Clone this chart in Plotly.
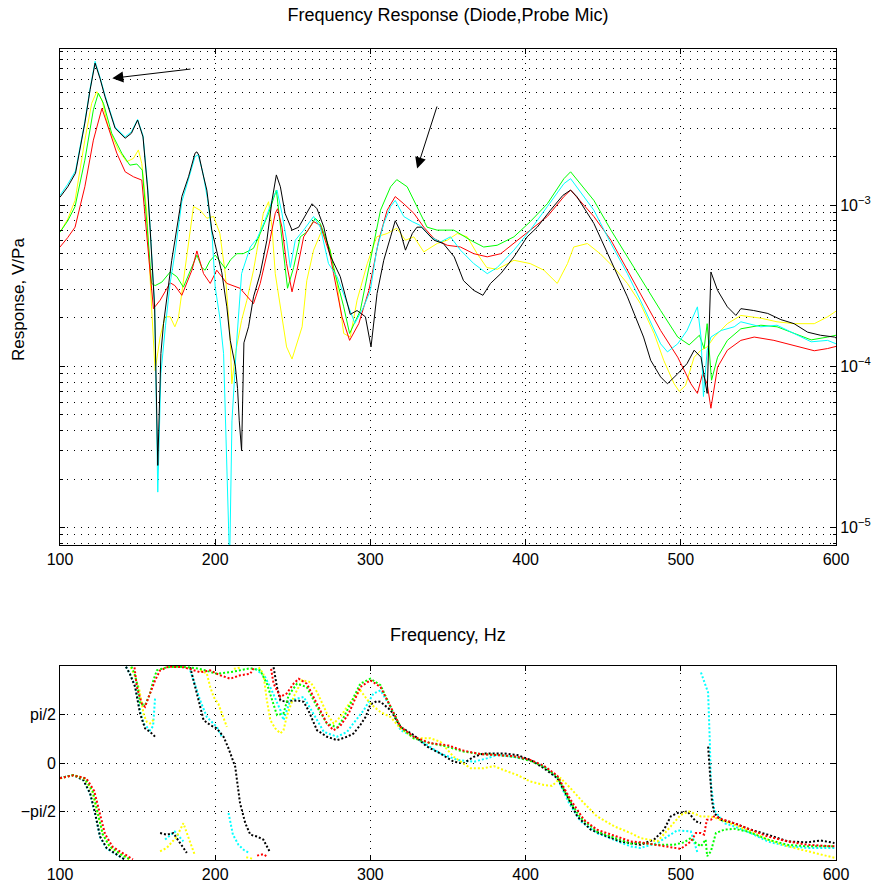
import math
import plotly.graph_objects as go

# ---------------- Magnitude data (Frequency Hz, Response V/Pa) ----------------
black_f = [100, 105, 110, 116, 119.4, 122.6, 125.8, 129, 135.5, 142, 146, 150, 153.5, 156.5, 158, 161, 163, 165,
           166.7, 169.9, 172, 174, 178.5, 182.8, 187, 188.2, 189.5, 192, 194.6, 197.8, 201, 204.3, 207.5, 209.7,
           213, 214.4, 215.5, 217, 218.5, 221.5, 224.7, 229, 233.3, 236.6, 239.4, 242, 245, 249.5, 253.8, 258,
           262.4, 265.6, 270, 274, 280.6, 287, 291.4, 296.8, 300.4, 304.3, 308.6, 313, 316, 319, 322.6, 327, 330,
           333, 341, 347, 354, 360, 366.6, 372.5, 377.4, 384, 392.5, 401, 407.5, 416, 424, 429, 433, 444, 455,
           465.6, 476, 480.6, 487, 491.4, 498, 504, 508.6, 513, 517, 519.4, 523.7, 530, 535.5, 538.7, 547, 556,
           564.5, 573, 581.7, 590, 599, 600]
black_v = [1.12e-3, 1.3e-3, 1.58e-3, 3.23e-3, 5.2e-3, 7.6e-3, 6.1e-3, 4.7e-3, 3.0e-3, 2.6e-3, 2.79e-3, 3.37e-3,
           2.65e-3, 1.24e-3, 7.3e-4, 2.3e-4, 2.43e-5, 1.2e-4, 1.84e-4, 3.27e-4, 4.55e-4, 6.0e-4, 1.13e-3, 1.5e-3,
           2.1e-3, 2.14e-3, 2.04e-3, 1.58e-3, 1.24e-3, 7.0e-4, 5.25e-4, 3.8e-4, 2.34e-4, 1.45e-4, 1.0e-4, 7.3e-5,
           4.6e-5, 3.0e-5, 1.4e-4, 1.76e-4, 2.7e-4, 3.76e-4, 6.06e-4, 1.07e-3, 1.54e-3, 1.3e-3, 8.9e-4, 7.0e-4,
           7.3e-4, 8.67e-4, 1.02e-3, 9.5e-4, 7.3e-4, 4.9e-4, 3.6e-4, 2.1e-4, 2.22e-4, 2.03e-4, 1.32e-4, 2.83e-4,
           4.55e-4, 6.36e-4, 8.0e-4, 7.0e-4, 5.26e-4, 6.67e-4, 7.3e-4, 7.3e-4, 6.06e-4, 5.78e-4, 4.78e-4, 3.4e-4,
           2.96e-4, 2.76e-4, 3.27e-4, 3.76e-4, 4.78e-4, 6.36e-4, 7.3e-4, 9.3e-4, 1.15e-3, 1.24e-3, 1.13e-3, 7.7e-4,
           4.55e-4, 2.7e-4, 1.52e-4, 1.09e-4, 8.6e-5, 7.8e-5, 9.0e-5, 1.04e-4, 1.26e-4, 1.14e-4, 6.8e-5, 3.85e-4,
           2.96e-4, 2.34e-4, 2.07e-4, 2.28e-4, 2.22e-4, 2.13e-4, 1.95e-4, 1.84e-4, 1.63e-4, 1.56e-4, 1.52e-4, 1.5e-4]

cyan_f = [100, 105, 110, 116, 119.4, 122.6, 125.8, 129, 135.5, 142, 146, 150, 153.5, 156.5, 158, 161, 163, 165, 168,
          171, 174, 178.5, 182.8, 187, 189, 192, 195, 198, 200, 203, 205.4, 207.5, 209.3, 210.8, 214, 217, 222.6,
          227, 232, 237.6, 239.8, 243, 246, 248.4, 251.6, 257, 263.4, 267.7, 273, 278.5, 285, 290, 295.7, 300, 304,
          308.6, 313, 316, 321.5, 327, 332, 338.7, 345, 351.6, 358, 366.6, 375.3, 381.7, 392.5, 403, 414, 424.7,
          429, 444, 455, 465.6, 476, 487, 491.4, 498, 504, 510.7, 513, 514.6, 517, 519.4, 526, 534.4, 538.7, 551.6,
          562, 573, 584, 594.6, 600]
cyan_v = [1.15e-3, 1.35e-3, 1.63e-3, 3.3e-3, 5.3e-3, 7.8e-3, 6.2e-3, 4.8e-3, 3.05e-3, 2.65e-3, 2.85e-3, 3.4e-3,
          2.7e-3, 1.3e-3, 7.5e-4, 2.4e-4, 1.66e-5, 9.0e-5, 1.8e-4, 3.3e-4, 5.0e-4, 1.05e-3, 1.45e-3, 2.0e-3, 2.05e-3,
          1.6e-3, 1.1e-3, 6.5e-4, 3.1e-4, 2.0e-4, 1.2e-4, 2.9e-5, 6.0e-6, 4.6e-5, 1.5e-4, 3.76e-4, 5.5e-4, 6.2e-4,
          8.0e-4, 1.13e-3, 1.24e-3, 8.9e-4, 6.06e-4, 4.1e-4, 6.06e-4, 7.0e-4, 8.5e-4, 7.3e-4, 4.34e-4, 3.6e-4,
          2.45e-4, 1.85e-4, 2.34e-4, 2.96e-4, 5.26e-4, 7.7e-4, 9.8e-4, 1.07e-3, 8.5e-4, 7.9e-4, 7.5e-4, 6.36e-4,
          5.9e-4, 6.36e-4, 5.26e-4, 4.34e-4, 3.76e-4, 4.1e-4, 5.26e-4, 7.0e-4, 9.8e-4, 1.36e-3, 1.46e-3, 9.3e-4,
          5.78e-4, 3.76e-4, 2.34e-4, 1.38e-4, 1.23e-4, 1.38e-4, 1.67e-4, 2.34e-4, 1.52e-4, 6.5e-5, 1.26e-4, 1.52e-4,
          1.67e-4, 1.76e-4, 1.89e-4, 1.76e-4, 1.8e-4, 1.6e-4, 1.42e-4, 1.45e-4, 1.38e-4]

yellow_f = [100, 105, 109.7, 116, 120.4, 123.7, 127, 131, 137.6, 143, 147.3, 150.5, 152.7, 156, 159, 161.3, 164.5,
            167.7, 171, 174, 176.3, 179.5, 182.8, 186, 190.3, 194.6, 199, 203, 206.5, 209.7, 210.7, 213, 217, 220.4,
            224.7, 227, 231, 234.4, 236.6, 238.7, 242, 246, 249.5, 252.7, 256, 259, 263.4, 268.8, 274, 278.5,
            282.8, 287, 291.4, 298, 304, 310.8, 317, 322.6, 328, 334.4, 343, 349.5, 356, 362.4, 368.8, 375, 381.7,
            392.5, 403, 411.8, 420.4, 427, 431, 439.8, 448, 457, 465.6, 474, 482.8, 489, 495.7, 499, 503, 508.6,
            513, 517, 521.5, 530, 538.7, 551.6, 562, 573, 586, 594.6, 600]
yellow_v = [6.8e-4, 8.2e-4, 1.07e-3, 2.53e-3, 4.28e-3, 5.06e-3, 4.5e-3, 3.06e-3, 2.2e-3, 1.86e-3, 1.95e-3, 2.2e-3,
            1.81e-3, 8.9e-4, 2.34e-4, 9.4e-5, 1.52e-4, 2.03e-4, 2.03e-4, 1.76e-4, 2.0e-4, 3.4e-4, 6.06e-4, 9.8e-4,
            9.3e-4, 8.3e-4, 8.5e-4, 6.67e-4, 3.76e-4, 1.45e-4, 7.8e-5, 1.2e-4, 1.93e-4, 2.57e-4, 3.95e-4, 5.26e-4,
            8.9e-4, 1.05e-3, 7.3e-4, 3.76e-4, 2.34e-4, 1.32e-4, 1.11e-4, 1.38e-4, 1.76e-4, 3.4e-4, 5.26e-4, 7.0e-4,
            5.3e-4, 3.27e-4, 1.6e-4, 1.52e-4, 2.57e-4, 4.34e-4, 6.36e-4, 6.67e-4, 7.2e-4, 6.06e-4, 6.36e-4, 5.13e-4,
            5.78e-4, 6.06e-4, 6.67e-4, 6.36e-4, 5.0e-4, 4.1e-4, 4.0e-4, 4.55e-4, 4.34e-4, 3.95e-4, 3.27e-4, 4.34e-4,
            5.5e-4, 5.78e-4, 5.0e-4, 4.1e-4, 3.27e-4, 2.45e-4, 1.6e-4, 1.09e-4, 7.8e-5, 7.0e-5, 7.6e-5, 1.14e-4,
            1.26e-4, 1.32e-4, 1.52e-4, 1.84e-4, 2.07e-4, 1.99e-4, 1.89e-4, 1.84e-4, 1.84e-4, 2.03e-4, 2.2e-4]

green_f = [100, 105, 109.7, 116, 121.5, 124.7, 128, 133.3, 139.8, 145, 149.5, 153, 156, 159, 161.3, 165.6, 171,
           175.3, 179.5, 185, 188.2, 191.4, 193.5, 196.5, 200, 206.5, 210, 214, 218, 222.6, 224.7, 229, 234.4, 239.4,
           242, 245, 246.6, 250.5, 254.8, 259, 264.5, 267.7, 274, 276.3, 282.8, 286.6, 293.5, 300, 306.5, 313, 317,
           323.7, 330, 336.5, 343, 353.8, 364.5, 373, 381.7, 392.5, 403, 414, 424.7, 429, 444, 455, 465.6, 476, 487,
           498, 505.4, 512, 515, 517, 519.8, 523.7, 530, 538.7, 551.6, 562, 573, 584, 594.6, 600]
green_v = [6.8e-4, 8.0e-4, 9.8e-4, 1.9e-3, 3.9e-3, 4.95e-3, 4.28e-3, 2.79e-3, 2.1e-3, 1.77e-3, 1.8e-3, 1.65e-3,
           7.7e-4, 3.27e-4, 3.17e-4, 3.33e-4, 3.85e-4, 3.6e-4, 3.1e-4, 4.1e-4, 4.9e-4, 4.1e-4, 3.95e-4, 4.5e-4,
           4.9e-4, 4.05e-4, 4.6e-4, 5.0e-4, 5.0e-4, 5.26e-4, 5.4e-4, 6.67e-4, 8.9e-4, 1.24e-3, 7.7e-4, 4.1e-4,
           3.05e-4, 4.1e-4, 6.36e-4, 6.8e-4, 8.3e-4, 7.7e-4, 5.26e-4, 4.1e-4, 2.34e-4, 1.6e-4, 2.22e-4, 4.55e-4,
           9.3e-4, 1.3e-3, 1.44e-3, 1.3e-3, 9.8e-4, 7.3e-4, 7.0e-4, 7.0e-4, 6.06e-4, 5.5e-4, 5.64e-4, 6.36e-4,
           7.9e-4, 1.02e-3, 1.46e-3, 1.61e-3, 1.07e-3, 7.0e-4, 4.78e-4, 3.27e-4, 2.22e-4, 1.52e-4, 1.36e-4, 1.56e-4,
           1.29e-4, 1.84e-4, 8.2e-5, 1.14e-4, 1.45e-4, 1.71e-4, 1.8e-4, 1.76e-4, 1.6e-4, 1.46e-4, 1.52e-4, 1.56e-4]

red_f = [100, 105, 109.7, 116, 121.5, 127, 131, 136.6, 142, 147.3, 152.7, 156, 160.2, 164.5, 171, 174, 178.5, 185,
         188.2, 192.5, 196.8, 201, 207.5, 216, 224.7, 229, 234.4, 238.7, 240.2, 243, 246, 249.5, 252.7, 257, 263.4,
         267.7, 274, 276.3, 281.7, 286.6, 292.5, 299, 305.4, 310.8, 316, 321.5, 328, 334.4, 341, 349.5, 358, 366.6,
         375.3, 384, 392.5, 403, 414, 424.7, 429, 444, 455, 465.6, 476, 487, 498, 506.5, 510.7, 514, 517, 519.4,
         523.7, 530, 538.7, 547.3, 560, 573, 586, 594.6, 600]
red_v = [5.5e-4, 6.3e-4, 7.3e-4, 1.3e-3, 2.53e-3, 3.98e-3, 3.06e-3, 2.1e-3, 1.61e-3, 1.5e-3, 1.43e-3, 6.67e-4,
         2.28e-4, 2.57e-4, 3.3e-4, 3.17e-4, 2.76e-4, 3.95e-4, 5.2e-4, 3.76e-4, 3.27e-4, 3.95e-4, 3.27e-4, 3.05e-4,
         2.45e-4, 3.27e-4, 5.5e-4, 8.9e-4, 9.5e-4, 7.3e-4, 4.34e-4, 2.9e-4, 3.95e-4, 6.36e-4, 7.9e-4, 7.5e-4, 4.9e-4,
         3.76e-4, 2.03e-4, 1.45e-4, 1.84e-4, 2.96e-4, 6.06e-4, 9.3e-4, 1.13e-3, 1.02e-3, 8.9e-4, 7.3e-4, 6.2e-4,
         5.64e-4, 5.5e-4, 5.0e-4, 4.78e-4, 5.0e-4, 5.78e-4, 7.0e-4, 8.5e-4, 1.13e-3, 1.24e-3, 8.5e-4, 6.06e-4,
         3.95e-4, 2.57e-4, 1.67e-4, 1.14e-4, 7.8e-5, 6.8e-5, 9.0e-5, 7.8e-5, 5.5e-5, 9.9e-5, 1.26e-4, 1.45e-4,
         1.52e-4, 1.45e-4, 1.35e-4, 1.25e-4, 1.29e-4, 1.33e-4]

# ---------------- Phase data (Frequency Hz, phase rad) ----------------
black_pf = [100, 108.6, 115, 119.4, 122.6, 125.8, 130, 136.6, 141.5, 142.5, 145, 148.4, 151.6, 154.8, 158, 161.3,
            164.5, 168.8, 173, 177.4, 181.7, 183.9, 188.2, 192.5, 196.8, 201, 205.4, 208.6, 212.9, 216, 219.4, 222.6,
            227, 231, 235.5, 237.6, 239.8, 242, 246, 252.7, 257, 260, 265.6, 272, 278.5, 285, 289, 293.5, 297, 300,
            304, 306.5, 313, 319.4, 328, 336.5, 345, 353.7, 360, 366.6, 373, 386, 394.6, 403, 411.8, 420.4, 427,
            433.3, 442, 452.7, 461, 474, 482.8, 489.2, 493.5, 497.8, 504.3, 509.7, 513, 516.6, 517.6, 519, 520, 521.5,
            525.8, 534.4, 545, 556, 569, 581.7, 590, 599]
black_p = [-0.49, -0.39, -0.55, -0.98, -1.62, -2.38, -2.75, -2.97, -3.12, 3.12, 2.89, 2.46, 1.6, 1.12, 1.01, 0.85,
           -2.27, -2.32, -2.27, -2.59, -2.91, 3.1, 2.25, 1.39, 1.23, 1.12, 0.85, 0.47, -0.12, -1.3, -1.95, -2.32,
           -2.38, -2.48, -2.91, 3.1, 2.46, 2.03, 1.98, 2.03, 1.98, 1.71, 1.06, 0.85, 0.74, 0.85, 0.95, 1.23, 1.5,
           1.9, 2.0, 1.98, 1.71, 1.17, 0.9, 0.53, 0.31, 0.04, -0.01, 0.2, 0.31, 0.31, 0.26, 0.1, -0.17, -0.49, -1.09,
           -1.73, -2.16, -2.38, -2.54, -2.65, -2.48, -2.16, -1.73, -1.62, -1.57, -1.89, -1.95, 2.41, 0.53, -0.49,
           -1.19, -1.62, -1.84, -1.95, -2.16, -2.32, -2.54, -2.57, -2.51, -2.59]

cyan_pf = [100, 108.6, 115, 119.4, 122.6, 125.8, 130, 136.6, 141.5, 142.5, 145, 148.4, 151.6, 153.8, 158, 160,
           161.3, 167.7, 174, 179.5, 183.9, 190.3, 194.6, 201, 204.3, 208.6, 211.4, 215, 218.3, 221.5, 226, 232, 236,
           239.8, 242, 244, 248.4, 257, 263.4, 270, 278.5, 285, 289, 295.7, 302, 306.5, 313, 319.4, 328, 336.5, 345,
           356, 366.6, 375, 381.7, 392.5, 403, 411.8, 420.4, 428, 435.5, 446, 457, 467.7, 474, 485, 491.4, 497.8,
           506.5, 510.8, 513, 517.6, 518.7, 519.4, 521.5, 528, 534.4, 545, 556, 569, 581.7, 599]
cyan_p = [-0.49, -0.39, -0.55, -1.0, -1.65, -2.4, -2.77, -2.98, -3.12, 3.12, 2.9, 2.5, 1.7, 1.28, 1.06, 1.2, 2.14,
          -2.48, -2.22, -2.54, 3.0, 2.03, 1.49, 1.17, 0.85, -1.62, -2.32, -2.65, -2.81, -2.9, 3.05, 2.8, 2.4, 1.98,
          1.71, 1.39, 2.03, 2.14, 1.6, 1.01, 0.85, 1.01, 1.28, 1.71, 2.25, 2.35, 1.82, 1.06, 0.85, 0.58, 0.31, 0.1,
          0.04, 0.15, 0.26, 0.2, 0.1, -0.12, -0.49, -1.3, -1.89, -2.27, -2.48, -2.7, -2.75, -2.59, -2.38, -2.18,
          -2.22, -2.91, 2.93, 2.28, 0.69, -0.65, -1.52, -1.95, -2.05, -2.27, -2.54, -2.7, -2.75, -2.75]

yellow_pf = [100, 108.6, 116, 121, 124, 127.5, 132, 139, 144.5, 145.5, 148, 151, 154, 156, 158, 161, 164.5, 168.8,
             175.3, 179.5, 184, 187, 190.3, 194.6, 196.8, 199, 202, 205.4, 207.5, 212, 217, 220, 224, 228, 231,
             233.3, 235.5, 238.7, 242, 244, 246, 250.5, 256, 261.3, 265.6, 272, 276.3, 280.6, 286, 293.5, 300, 306.5,
             313, 319.4, 328, 338.7, 345, 353.7, 364.5, 373, 379.5, 386, 394.6, 403, 411.8, 417, 422.6, 429, 437.6,
             446, 457, 467.7, 474, 485, 493.5, 500, 505.4, 513, 519.4, 525.8, 534.4, 545, 556, 569, 581.7, 599]
yellow_p = [-0.5, -0.39, -0.52, -0.95, -1.6, -2.3, -2.72, -2.95, -3.12, 3.1, 2.85, 2.4, 1.55, 1.33, 1.28, 1.44,
            -2.86, -2.75, -2.38, -1.95, -2.59, -3.0, 3.0, 2.9, 2.46, 2.14, 1.92, 1.49, 1.17, 3.05, 3.1, -3.05, -3.1,
            3.1, 2.9, 2.03, 1.39, 1.12, 0.96, 1.06, 1.49, 2.14, 2.68, 2.62, 2.3, 1.6, 1.28, 1.49, 1.9, 2.35, 1.92,
            1.65, 1.49, 1.12, 0.8, 0.8, 0.69, 0.2, -0.17, -0.17, -0.1, -0.23, -0.39, -0.6, -0.71, -0.74, -0.49, -0.82,
            -1.3, -1.73, -2.05, -2.27, -2.43, -2.54, -2.05, -1.68, -1.57, -1.73, -1.73, -1.84, -2.0, -2.22, -2.48,
            -2.7, -2.86, -3.07]

green_pf = [100, 108.6, 116, 121, 124, 127.5, 132, 139, 145, 146, 148, 150, 151.6, 154.8, 158, 160.2, 162.4, 168.8,
            175, 182, 190, 201, 211.8, 222.6, 229, 233.3, 236.6, 239.8, 244, 247.3, 252.7, 259, 265.6, 272, 278.5,
            282, 287, 293.5, 300, 306.5, 313, 319.4, 328, 338.7, 349.5, 360, 370.8, 381.7, 392.5, 403, 411.8, 420.4,
            428, 435.5, 446, 457, 467.7, 474, 485, 495.7, 502, 506.5, 509.7, 513, 516, 517, 519.4, 522.6, 528, 534.4,
            543, 556, 569, 581.7, 599]
green_p = [-0.49, -0.39, -0.5, -0.9, -1.55, -2.3, -2.7, -2.95, -3.12, 3.12, 2.9, 2.5, 1.92, 1.87, 2.25, 2.68, 3.0,
           3.1, 3.12, 3.1, 3.05, 2.89, 2.96, 3.07, 3.0, 2.57, 2.03, 1.55, 1.6, 2.19, 2.57, 2.46, 1.82, 1.28, 1.15,
           1.4, 1.9, 2.57, 2.73, 2.52, 1.82, 1.17, 0.8, 0.64, 0.53, 0.37, 0.29, 0.26, 0.2, 0.07, -0.12, -0.44, -1.19,
           -1.78, -2.22, -2.43, -2.61, -2.59, -2.65, -2.65, -2.57, -2.43, -2.59, -2.7, -2.48, -3.02, -2.86, -2.27,
           -2.16, -2.13, -2.22, -2.48, -2.65, -2.7, -2.7]

red_pf = [100, 108.6, 117, 122, 125, 129, 134, 141, 147, 148, 149.5, 152.7, 154.8, 158, 161.3, 164.5, 170, 180,
          190.3, 196.8, 203.2, 209.7, 216, 222.6, 225, 227, 231, 234, 236, 237.6, 242, 246, 250.5, 253.8, 259, 265.6,
          272, 276.3, 280.6, 286, 293.5, 300, 306.5, 313, 319.4, 328, 338.7, 349.5, 360, 370.8, 381.7, 392.5, 403,
          411.8, 420.4, 429, 437.6, 446, 457, 467.7, 474, 485, 495.7, 500, 506.5, 509.7, 513, 515, 516.8, 519.4,
          521.5, 528, 534.4, 545, 556, 569, 581.7, 599]
red_p = [-0.49, -0.4, -0.5, -0.9, -1.5, -2.3, -2.72, -2.95, -3.12, 3.1, 2.46, 1.92, 1.82, 2.25, 2.68, 3.0, 3.12, 3.1,
         2.94, 3.0, 2.84, 2.73, 2.84, 2.89, 3.1, -3.0, -2.95, -3.05, 3.05, 2.57, 2.14, 2.25, 2.57, 2.73, 2.57, 1.92,
         1.28, 1.06, 1.2, 1.6, 2.46, 2.68, 2.46, 1.82, 1.17, 0.85, 0.64, 0.58, 0.4, 0.29, 0.26, 0.22, 0.1, -0.09,
         -0.41, -1.19, -1.84, -2.16, -2.35, -2.54, -2.57, -2.65, -2.75, -2.78, -2.54, -2.27, -2.27, -2.32, -1.84,
         -1.84, -1.73, -1.84, -1.95, -2.16, -2.38, -2.54, -2.65, -2.7]

x_ticks = [100, 200, 300, 400, 500, 600]
mag_tickvals = [1e-5, 1e-4, 1e-3]
mag_ticktext = ["10<sup>−5</sup>", "10<sup>−4</sup>", "10<sup>−3</sup>"]
phase_tickvals = [-math.pi / 2, 0, math.pi / 2]
phase_ticktext = ["−pi/2", "0", "pi/2"]

# arrows (tip, tail) in data coordinates
arrow1 = dict(tip=(133.7, 6.12e-3), tail=(185.0, 7.0e-3))
arrow2 = dict(tip=(330.1, 1.69e-3), tail=(343.2, 4.18e-3))

COLORS = {"black": "#000000", "cyan": "#00FFFF", "yellow": "#FFFF00", "green": "#00FF00", "red": "#FF0000"}
FONT = "Liberation Sans, Arial, Helvetica, sans-serif"
TICK_SIZE = 16
LABEL_SIZE = 17
TITLE_SIZE = 18


def gapped(f, p, thr=1.8):
    xs, ys = [], []
    for i, (a, b) in enumerate(zip(f, p)):
        if i > 0 and abs(b - p[i - 1]) > thr:
            xs.append(None)
            ys.append(None)
        xs.append(a)
        ys.append(b)
    return xs, ys


fig = go.Figure()

mag_series = [("yellow", yellow_f, yellow_v), ("green", green_f, green_v), ("red", red_f, red_v),
              ("cyan", cyan_f, cyan_v), ("black", black_f, black_v)]
for name, f, v in mag_series:
    fig.add_trace(go.Scatter(x=f, y=v, mode="lines", line=dict(color=COLORS[name], width=1),
                             xaxis="x", yaxis="y", showlegend=False, hoverinfo="skip"))

ph_series = [("cyan", cyan_pf, cyan_p), ("black", black_pf, black_p), ("yellow", yellow_pf, yellow_p),
             ("green", green_pf, green_p), ("red", red_pf, red_p)]
for name, f, p in ph_series:
    xs, ys = gapped(f, p)
    fig.add_trace(go.Scatter(x=xs, y=ys, mode="lines", connectgaps=False,
                             line=dict(color=COLORS[name], width=2, dash="2px,2px"),
                             xaxis="x2", yaxis="y2", showlegend=False, hoverinfo="skip"))

W, H = 880, 888
L, R, T, B = 60, 44, 49, 28
plot_h = H - T - B
top_dom = [(860 - 545) / plot_h, 1.0]
bot_dom = [0.0, (860 - 666) / plot_h]

grid_common = dict(showgrid=True, gridcolor="#000000", gridwidth=1, griddash="1px,6px")
axis_common = dict(showline=True, linecolor="#000000", linewidth=1, mirror="ticks", ticks="inside",
                   ticklen=5, tickcolor="#000000", zeroline=False, automargin=False,
                   tickfont=dict(family=FONT, size=TICK_SIZE, color="#000000"))

minor_vals = [k * 10.0 ** e for e in range(-6, -1) for k in range(2, 10)]

fig.update_layout(
    width=W, height=H,
    margin=dict(l=L, r=R, t=T, b=B, autoexpand=False),
    paper_bgcolor="white", plot_bgcolor="white",
    font=dict(family=FONT, size=TICK_SIZE, color="#000000"),
    title=dict(text="Frequency Response (Diode,Probe Mic)", x=(L + (W - L - R) / 2) / W, xanchor="center",
               y=1 - 15 / H, yanchor="middle", font=dict(family=FONT, size=TITLE_SIZE)),
    xaxis=dict(domain=[0, 1], anchor="y", range=[100, 600], tickvals=x_ticks, **axis_common, **grid_common),
    yaxis=dict(domain=top_dom, anchor="x", type="log", side="right",
               range=[math.log10(7.8e-6), math.log10(9.3e-3)],
               tickvals=mag_tickvals, ticktext=mag_ticktext,
               minor=dict(tickvals=minor_vals, ticks="inside", ticklen=3, tickcolor="#000000",
                          showgrid=True, gridcolor="#000000", gridwidth=1, griddash="1px,6px"),
               **axis_common, **grid_common),
    xaxis2=dict(domain=[0, 1], anchor="y2", range=[100, 600], tickvals=x_ticks, **axis_common, **grid_common),
    yaxis2=dict(domain=bot_dom, anchor="x2", range=[-math.pi, math.pi], side="left",
                tickvals=phase_tickvals, ticktext=phase_ticktext, **axis_common, **grid_common),
    annotations=[
        dict(text="Response, V/Pa", xref="paper", yref="paper", x=(18 - L) / (W - L - R),
             y=(860 - 300) / plot_h, textangle=-90, showarrow=False, xanchor="center", yanchor="middle",
             font=dict(family=FONT, size=LABEL_SIZE)),
        dict(text="Frequency, Hz", xref="paper", yref="paper", x=0.5, y=(860 - 635) / plot_h,
             showarrow=False, xanchor="center", yanchor="middle", font=dict(family=FONT, size=TITLE_SIZE)),
        dict(x=arrow1["tip"][0], y=math.log10(arrow1["tip"][1]), ax=arrow1["tail"][0],
             ay=math.log10(arrow1["tail"][1]), xref="x", yref="y", axref="x", ayref="y", text="",
             showarrow=True, arrowhead=2, arrowsize=2.2, arrowwidth=1, arrowcolor="#000000"),
        dict(x=arrow2["tip"][0], y=math.log10(arrow2["tip"][1]), ax=arrow2["tail"][0],
             ay=math.log10(arrow2["tail"][1]), xref="x", yref="y", axref="x", ayref="y", text="",
             showarrow=True, arrowhead=2, arrowsize=2.2, arrowwidth=1, arrowcolor="#000000"),
    ],
)

fig.write_html("out.html")
